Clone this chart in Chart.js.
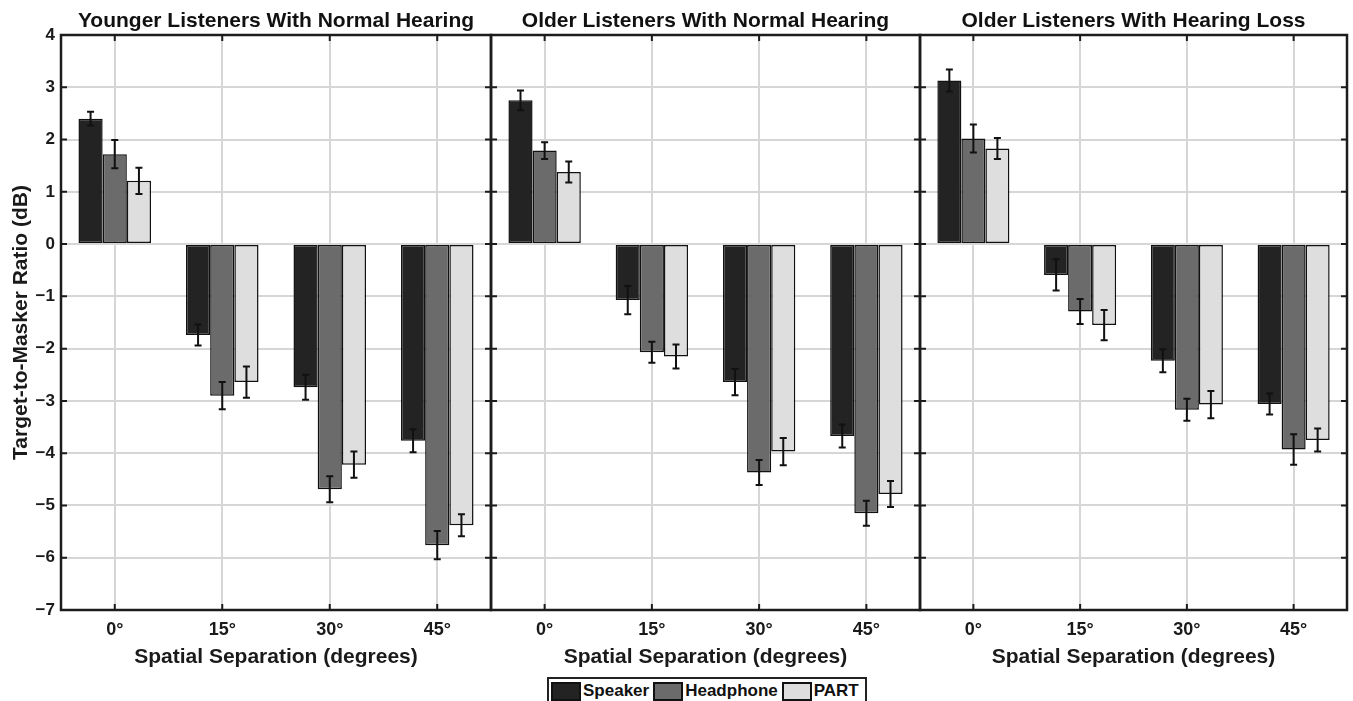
<!DOCTYPE html>
<html>
<head>
<meta charset="utf-8">
<script src="https://cdn.jsdelivr.net/npm/chart.js@4"></script>
<style>
  body { margin: 0; background: #fff; font-family: "Liberation Sans", Arial, sans-serif; }
  #wrap { position: relative; width: 1353px; height: 701px; overflow: hidden; }
  #wrap canvas { position: absolute; left: 0; top: 0; }
  #legend {
    position: absolute; left: 547px; top: 677px; height: 28px;
    border: 2px solid #222; display: flex; align-items: center;
    padding: 0 2px; box-sizing: border-box; background: #fff;
  }
  .item { display: flex; align-items: center; font-weight: bold; font-size: 17px; color: #111; margin-right: 4px; }
  .sw { width: 30px; height: 19px; border: 2px solid #111; box-sizing: border-box; margin-right: 2px; }
</style>
</head>
<body>
<div id="wrap">
  <canvas id="c0" width="1353" height="701"></canvas>
  <canvas id="c1" width="1353" height="701"></canvas>
  <canvas id="c2" width="1353" height="701"></canvas>
  <div id="legend"></div>
</div>
<script>
// categories and series
const categories = ['0°', '15°', '30°', '45°'];
const seriesNames = ['Speaker', 'Headphone', 'PART'];
const seriesColors = ['#232323', '#6b6b6b', '#dedede'];
const panelTitles = [
  'Younger Listeners With Normal Hearing',
  'Older Listeners With Normal Hearing',
  'Older Listeners With Hearing Loss'
];
const yTicks = [4, 3, 2, 1, 0, -1, -2, -3, -4, -5, -6, -7];

// younger, normal hearing
const ynhSpeaker = [2.40, -1.74, -2.74, -3.76];
const ynhSpeakerErr = [0.13, 0.20, 0.24, 0.22];
const ynhHeadphone = [1.72, -2.90, -4.69, -5.76];
const ynhHeadphoneErr = [0.27, 0.26, 0.25, 0.27];
const ynhPart = [1.21, -2.64, -4.22, -5.38];
const ynhPartErr = [0.25, 0.30, 0.25, 0.21];

// older, normal hearing
const onhSpeaker = [2.75, -1.07, -2.64, -3.67];
const onhSpeakerErr = [0.19, 0.27, 0.25, 0.22];
const onhHeadphone = [1.79, -2.07, -4.37, -5.15];
const onhHeadphoneErr = [0.16, 0.20, 0.24, 0.24];
const onhPart = [1.38, -2.15, -3.97, -4.78];
const onhPartErr = [0.20, 0.23, 0.26, 0.25];

// older, hearing loss
const ohlSpeaker = [3.13, -0.59, -2.23, -3.06];
const ohlSpeakerErr = [0.21, 0.30, 0.22, 0.20];
const ohlHeadphone = [2.02, -1.29, -3.17, -3.93];
const ohlHeadphoneErr = [0.27, 0.24, 0.21, 0.29];
const ohlPart = [1.83, -1.55, -3.07, -3.75];
const ohlPartErr = [0.20, 0.29, 0.26, 0.22];

const panelValues = [
  [ynhSpeaker, ynhHeadphone, ynhPart],
  [onhSpeaker, onhHeadphone, onhPart],
  [ohlSpeaker, ohlHeadphone, ohlPart]
];
const panelErrors = [
  [ynhSpeakerErr, ynhHeadphoneErr, ynhPartErr],
  [onhSpeakerErr, onhHeadphoneErr, onhPartErr],
  [ohlSpeakerErr, ohlHeadphoneErr, ohlPartErr]
];

// where each panel's plot area sits on the page
const panelLeft = [61, 491, 920];
const panelRight = [491, 920, 1347];
const plotTop = 35, plotBottom = 610;
const W = 1353, H = 701;
const yAxisW = 61, xAxisH = 62, titleH = 26.2;

const FONT = '"Liberation Sans", Arial, sans-serif';
const INK = '#1c1c1c';

// error bars, drawn over the bars
const errorBars = {
  id: 'errorBars',
  afterDatasetsDraw(chart) {
    const ctx = chart.ctx;
    const y = chart.scales.y;
    ctx.save();
    ctx.strokeStyle = '#111';
    ctx.lineWidth = 2;
    chart.data.datasets.forEach((ds, i) => {
      const meta = chart.getDatasetMeta(i);
      meta.data.forEach((bar, j) => {
        const v = ds.data[j], e = ds.errors[j];
        const y1 = y.getPixelForValue(v + e), y2 = y.getPixelForValue(v - e);
        ctx.beginPath();
        ctx.moveTo(bar.x, y1); ctx.lineTo(bar.x, y2);
        ctx.moveTo(bar.x - 3.5, y1); ctx.lineTo(bar.x + 3.5, y1);
        ctx.moveTo(bar.x - 3.5, y2); ctx.lineTo(bar.x + 3.5, y2);
        ctx.stroke();
      });
    });
    ctx.restore();
  }
};

// matlab-ish box with inward ticks
const boxAxes = {
  id: 'boxAxes',
  afterDraw(chart) {
    const ctx = chart.ctx;
    const a = chart.chartArea;
    const x = chart.scales.x, y = chart.scales.y;
    ctx.save();
    ctx.strokeStyle = INK;
    ctx.lineWidth = 2;
    ctx.beginPath();
    y.ticks.forEach(t => {
      const py = y.getPixelForValue(t.value);
      ctx.moveTo(a.left, py); ctx.lineTo(a.left + 6, py);
      ctx.moveTo(a.right, py); ctx.lineTo(a.right - 6, py);
    });
    categories.forEach((c, i) => {
      const px = x.getPixelForValue(i);
      ctx.moveTo(px, a.top); ctx.lineTo(px, a.top + 6);
      ctx.moveTo(px, a.bottom); ctx.lineTo(px, a.bottom - 6);
    });
    ctx.stroke();
    ctx.lineWidth = 2.5;
    ctx.strokeRect(a.left, a.top, a.right - a.left, a.bottom - a.top);
    ctx.restore();
  }
};

function makePanel(p) {
  const first = p === 0;
  const datasets = seriesNames.map((name, s) => ({
    label: name,
    data: panelValues[p][s],
    errors: panelErrors[p][s],
    backgroundColor: seriesColors[s],
    borderColor: '#111',
    borderWidth: 1.5,
    borderSkipped: false,
    categoryPercentage: 0.675,
    barPercentage: 1.0
  }));

  return new Chart(document.getElementById('c' + p), {
    type: 'bar',
    data: { labels: categories, datasets: datasets },
    options: {
      responsive: false,
      animation: false,
      events: [],
      layout: {
        padding: {
          left: first ? panelLeft[p] - yAxisW : panelLeft[p],
          right: W - panelRight[p],
          top: plotTop - titleH,
          bottom: H - plotBottom - xAxisH
        }
      },
      plugins: {
        legend: { display: false },
        tooltip: { enabled: false },
        title: {
          display: true,
          text: panelTitles[p],
          fullSize: false,
          color: '#111',
          font: { family: FONT, size: 21, weight: 'bold', lineHeight: 1.2 },
          padding: { top: 0, bottom: 1 }
        }
      },
      scales: {
        x: {
          offset: true,
          grid: { offset: false, color: '#d6d6d6', lineWidth: 2, drawTicks: false },
          border: { display: false },
          ticks: { color: '#1a1a1a', padding: 9, font: { family: FONT, size: 18, weight: 'bold' } },
          title: {
            display: true,
            text: 'Spatial Separation (degrees)',
            color: '#1a1a1a',
            font: { family: FONT, size: 21, weight: 'bold' },
            padding: { top: 2, bottom: 2 }
          },
          afterFit: s => { s.height = xAxisH; }
        },
        y: {
          min: -7,
          max: 4,
          afterBuildTicks: s => { s.ticks = yTicks.map(v => ({ value: v })); },
          grid: { color: '#d6d6d6', lineWidth: 2, drawTicks: false },
          border: { display: false },
          ticks: {
            display: first,
            padding: 6,
            color: '#1a1a1a',
            font: { family: FONT, size: 17, weight: 'bold' },
            callback: v => (v < 0 ? '\u2212' + Math.abs(v) : String(v))
          },
          title: {
            display: first,
            text: 'Target-to-Masker Ratio (dB)',
            color: '#1a1a1a',
            font: { family: FONT, size: 21, weight: 'bold' },
            padding: { top: 9, bottom: 2 }
          },
          afterFit: s => { s.width = first ? yAxisW : 0; }
        }
      }
    },
    plugins: [errorBars, boxAxes]
  });
}

[0, 1, 2].forEach(makePanel);

// legend under the middle panel
const legend = document.getElementById('legend');
seriesNames.forEach((name, s) => {
  const item = document.createElement('div');
  item.className = 'item';
  item.innerHTML = '<span class="sw" style="background:' + seriesColors[s] + '"></span>' + name;
  legend.appendChild(item);
});
</script>
</body>
</html>
